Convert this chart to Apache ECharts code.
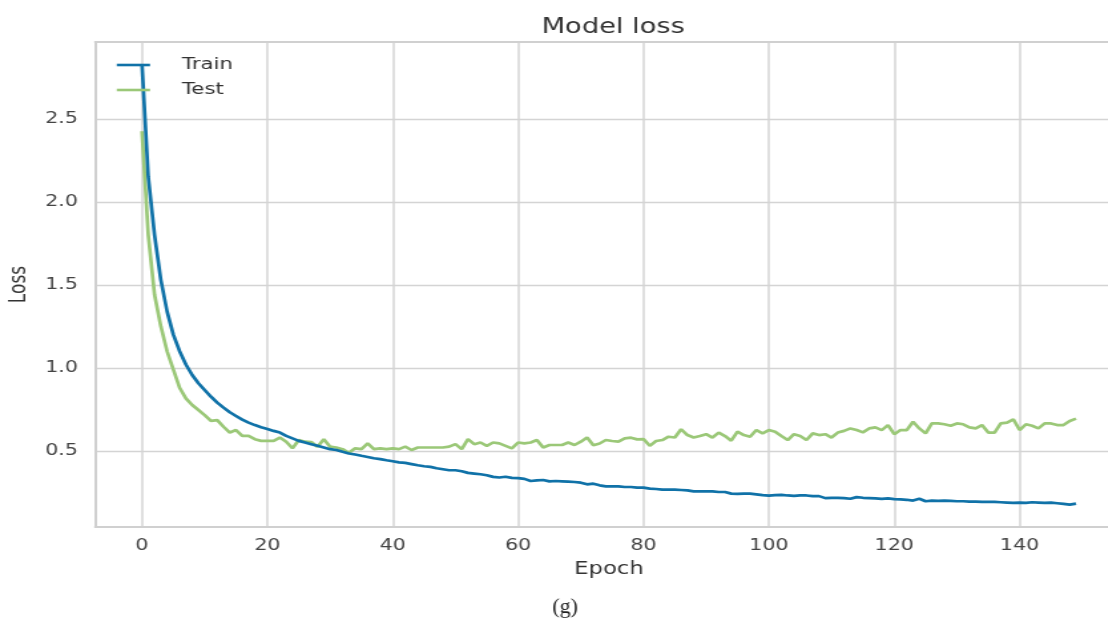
<!DOCTYPE html>
<html>
<head>
<meta charset="utf-8">
<script src="https://cdn.jsdelivr.net/npm/echarts@6/dist/echarts.min.js"></script>
<style>
  html, body { margin: 0; padding: 0; background: #ffffff; overflow: hidden; width: 1108px; height: 621px; }
  /* the figure is drawn narrower and stretched horizontally to its final width */
  #chart { width: 833px; height: 621px; transform: scaleX(1.33); transform-origin: 0 0; }
</style>
</head>
<body>
<div id="chart"></div>
<script>
// Training history: loss per epoch
const epochs = Array.from({ length: 150 }, (_, i) => i);

const trainLoss = [
  2.83, 2.15, 1.80, 1.53, 1.34, 1.20, 1.10, 1.02, 0.957, 0.907,
  0.866, 0.826, 0.79, 0.76, 0.732, 0.71, 0.688, 0.67, 0.655, 0.642,
  0.632, 0.62, 0.61, 0.59, 0.575, 0.56, 0.55, 0.54, 0.53, 0.52,
  0.51, 0.505, 0.494, 0.484, 0.478, 0.47, 0.463, 0.455, 0.45, 0.443,
  0.437, 0.43, 0.427, 0.42, 0.413, 0.407, 0.403, 0.395, 0.389, 0.383,
  0.383, 0.377, 0.367, 0.363, 0.359, 0.353, 0.343, 0.339, 0.344, 0.337,
  0.335, 0.331, 0.318, 0.322, 0.324, 0.316, 0.318, 0.316, 0.314, 0.312,
  0.308, 0.298, 0.302, 0.292, 0.286, 0.286, 0.286, 0.282, 0.282, 0.278,
  0.278, 0.272, 0.27, 0.266, 0.266, 0.266, 0.264, 0.262, 0.256, 0.256,
  0.256, 0.256, 0.252, 0.252, 0.242, 0.24, 0.242, 0.242, 0.238, 0.233,
  0.23, 0.233, 0.235, 0.231, 0.229, 0.231, 0.231, 0.227, 0.227, 0.215,
  0.217, 0.217, 0.215, 0.211, 0.221, 0.217, 0.215, 0.213, 0.211, 0.213,
  0.209, 0.207, 0.205, 0.2, 0.211, 0.196, 0.2, 0.198, 0.2, 0.198,
  0.196, 0.196, 0.194, 0.194, 0.192, 0.192, 0.192, 0.19, 0.188, 0.186,
  0.188, 0.186, 0.19, 0.188, 0.186, 0.188, 0.184, 0.18, 0.176, 0.182
];

const testLoss = [
  2.425, 1.80, 1.44, 1.25, 1.10, 0.99, 0.88, 0.816, 0.776, 0.746,
  0.715, 0.68, 0.685, 0.645, 0.61, 0.625, 0.59, 0.59, 0.57, 0.56,
  0.56, 0.56, 0.58, 0.555, 0.515, 0.565, 0.555, 0.553, 0.525, 0.57,
  0.525, 0.52, 0.51, 0.488, 0.515, 0.51, 0.545, 0.51, 0.515, 0.51,
  0.515, 0.51, 0.525, 0.505, 0.52, 0.52, 0.52, 0.52, 0.52, 0.525,
  0.54, 0.51, 0.57, 0.54, 0.55, 0.53, 0.55, 0.545, 0.53, 0.515,
  0.55, 0.545, 0.55, 0.565, 0.52, 0.535, 0.535, 0.535, 0.55, 0.535,
  0.555, 0.58, 0.534, 0.544, 0.565, 0.559, 0.555, 0.575, 0.579, 0.569,
  0.571, 0.53, 0.559, 0.565, 0.585, 0.58, 0.63, 0.595, 0.58, 0.589,
  0.6, 0.58, 0.61, 0.589, 0.561, 0.615, 0.595, 0.585, 0.625, 0.605,
  0.625, 0.615, 0.589, 0.565, 0.6, 0.589, 0.565, 0.605, 0.595, 0.6,
  0.58, 0.61, 0.62, 0.635, 0.625, 0.611, 0.635, 0.641, 0.625, 0.655,
  0.6, 0.625, 0.625, 0.675, 0.635, 0.605, 0.665, 0.665, 0.66, 0.651,
  0.665, 0.66, 0.641, 0.635, 0.655, 0.61, 0.61, 0.665, 0.67, 0.69,
  0.625, 0.66, 0.651, 0.635, 0.665, 0.665, 0.655, 0.655, 0.68, 0.694
];

const seriesNames = ['Train', 'Test'];
const titleText = 'Model loss';
const xLabel = 'Epoch';
const yLabel = 'Loss';
const captionText = '(g)';

const FONT = '"DejaVu Sans", sans-serif';
const FRAME = { show: true, onZero: false, lineStyle: { color: '#d0d0d0', width: 2 } };
const chart = echarts.init(document.getElementById('chart'));

const pairs = (ys) => epochs.map((e, i) => [e, ys[i]]);

chart.setOption({
  animation: false,
  backgroundColor: '#ffffff',
  title: {
    text: titleText,
    left: 456,
    textAlign: 'center',
    top: 12,
    textStyle: { fontFamily: FONT, fontSize: 20.5, fontWeight: 'normal', color: '#333333' }
  },
  legend: {
    orient: 'vertical',
    left: 86.5,
    top: 57,
    padding: 0,
    itemWidth: 25,
    itemHeight: 16,
    itemGap: 9,
    itemStyle: { opacity: 0 },
    lineStyle: { width: 2.6 },
    textStyle: { fontFamily: FONT, fontSize: 16, color: '#333333', lineHeight: 16, padding: [0, 0, 0, 19] },
    data: seriesNames
  },
  // the plot area runs on past the right edge of the figure;
  // its frame is drawn by the axis lines (left, bottom, top)
  grid: {
    left: 71.65,
    width: 772.5,
    top: 42,
    bottom: 94,
    outerBoundsMode: 'none',
    containLabel: false,
    show: false
  },
  xAxis: [
    {
      type: 'value',
      min: -7.45,
      max: 156.45,
      splitNumber: 8,
      name: xLabel,
      nameLocation: 'middle',
      nameGap: 34,
      nameTextStyle: { fontFamily: FONT, fontSize: 17, color: '#333333' },
      axisLine: FRAME,
      axisTick: { show: false },
      axisLabel: {
        showMinLabel: false,
        showMaxLabel: false,
        margin: 11,
        fontFamily: FONT,
        fontSize: 15.5,
        color: '#444444'
      },
      splitLine: { show: true, showMinLine: false, showMaxLine: false, lineStyle: { color: '#d4d4d4', width: 1.5 } }
    },
    {
      type: 'value',
      position: 'top',
      min: -7.45,
      max: 156.45,
      axisLine: FRAME,
      axisTick: { show: false },
      axisLabel: { show: false },
      splitLine: { show: false }
    }
  ],
  yAxis: {
    type: 'value',
    min: 0.041,
    max: 2.963,
    splitNumber: 5,
    name: yLabel,
    nameLocation: 'middle',
    nameGap: 46,
    nameTextStyle: { fontFamily: FONT, fontSize: 17, color: '#333333' },
    axisLine: FRAME,
    axisTick: { show: false },
    axisLabel: {
      showMinLabel: false,
      showMaxLabel: false,
      margin: 13,
      fontFamily: FONT,
      fontSize: 15.5,
      color: '#444444',
      formatter: (v) => v.toFixed(1)
    },
    splitLine: { show: true, showMinLine: false, showMaxLine: false, lineStyle: { color: '#d4d4d4', width: 1.3 } }
  },
  series: [
    {
      name: seriesNames[0],
      type: 'line',
      data: pairs(trainLoss),
      showSymbol: false,
      symbol: 'none',
      z: 3,
      lineStyle: { color: '#1072a8', width: 2.7 },
      itemStyle: { color: '#1072a8' }
    },
    {
      name: seriesNames[1],
      type: 'line',
      data: pairs(testLoss),
      showSymbol: false,
      symbol: 'none',
      z: 2,
      lineStyle: { color: '#9bc878', width: 2.7 },
      itemStyle: { color: '#9bc878' }
    }
  ],
  graphic: [
    {
      // caption keeps its natural proportions under the page stretch
      type: 'text',
      x: 424.8,
      y: 607,
      scaleX: 1 / 1.33,
      style: {
        text: captionText,
        font: '22px "Liberation Serif", "DejaVu Serif", serif',
        fill: '#222222',
        align: 'center',
        verticalAlign: 'middle'
      }
    }
  ]
});
</script>
</body>
</html>
